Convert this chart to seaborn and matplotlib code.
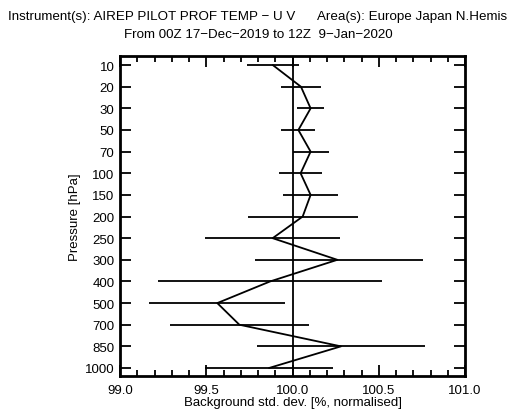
import numpy as np
import pandas as pd
import matplotlib
matplotlib.use("Agg")
import matplotlib.pyplot as plt
import seaborn as sns
from matplotlib.ticker import MultipleLocator

levels = ["10", "20", "30", "50", "70", "100", "150", "200", "250", "300",
          "400", "500", "700", "850", "1000"]
values = [99.886, 100.049, 100.105, 100.034, 100.105, 100.047, 100.105, 100.059,
          99.885, 100.26, 99.87, 99.564, 99.692, 100.281, 99.864]
err_lo = [99.735, 99.935, 100.027, 99.936, 100.0, 99.923, 99.947, 99.74,
          99.494, 99.783, 99.222, 99.171, 99.287, 99.793, 99.492]
err_hi = [100.037, 100.164, 100.183, 100.132, 100.21, 100.171, 100.263, 100.38,
          100.277, 100.755, 100.517, 99.956, 100.098, 100.771, 100.236]

sns.set_theme(style="white")
plt.rcParams["font.family"] = ["Liberation Sans", "DejaVu Sans"]
plt.rcParams["text.color"] = "black"
plt.rcParams["axes.labelcolor"] = "black"

fig = plt.figure(figsize=(5.08, 4.10), dpi=100)
ax = fig.add_axes([120/508, 1-377/410, (465-120)/508, (377-57)/410])

df = pd.DataFrame({"level": levels, "pos": np.arange(len(levels)), "val": values})
sns.lineplot(data=df, x="val", y="pos", sort=False, orient="y", color="black",
             lw=1.3, ax=ax)
ax.hlines(df["pos"], err_lo, err_hi, color="black", lw=1.3)
ax.axvline(100.0, color="black", lw=1.3)

ax.set_xlim(99.0, 101.0)
ax.set_ylim(14.37, -0.42)
ax.set_yticks(np.arange(len(levels)))
ax.set_yticklabels(levels)
ax.xaxis.set_major_locator(MultipleLocator(0.5))
ax.xaxis.set_minor_locator(MultipleLocator(0.1))
ax.xaxis.set_major_formatter(matplotlib.ticker.FormatStrFormatter("%.1f"))
ax.tick_params(axis="both", which="both", direction="in", top=True, right=True,
               bottom=True, left=True, labelsize=9.5, colors="black",
               labelcolor="black", width=1.3)
ax.tick_params(axis="both", which="major", length=8)
ax.tick_params(axis="x", which="minor", length=4)
ax.tick_params(axis="x", pad=6)
ax.tick_params(axis="y", pad=4)
for s in ax.spines.values():
    s.set_color("black")
    s.set_linewidth(2)
ax.set_xlabel("Background std. dev. [%, normalised]", fontsize=9.5, labelpad=0,
              color="black")
ax.set_ylabel("Pressure [hPa]", fontsize=9.5, labelpad=3, color="black")

fig.text(258/508, 1-17/410, "Instrument(s): AIREP PILOT PROF TEMP \u2212 U V      Area(s): Europe Japan N.Hemis",
         ha="center", va="center", fontsize=9.6, color="black")
fig.text(258/508, 1-35/410, "From 00Z 17\u2212Dec\u22122019 to 12Z  9\u2212Jan\u22122020",
         ha="center", va="center", fontsize=9.6, color="black")

fig.savefig("out.png", dpi=100)
